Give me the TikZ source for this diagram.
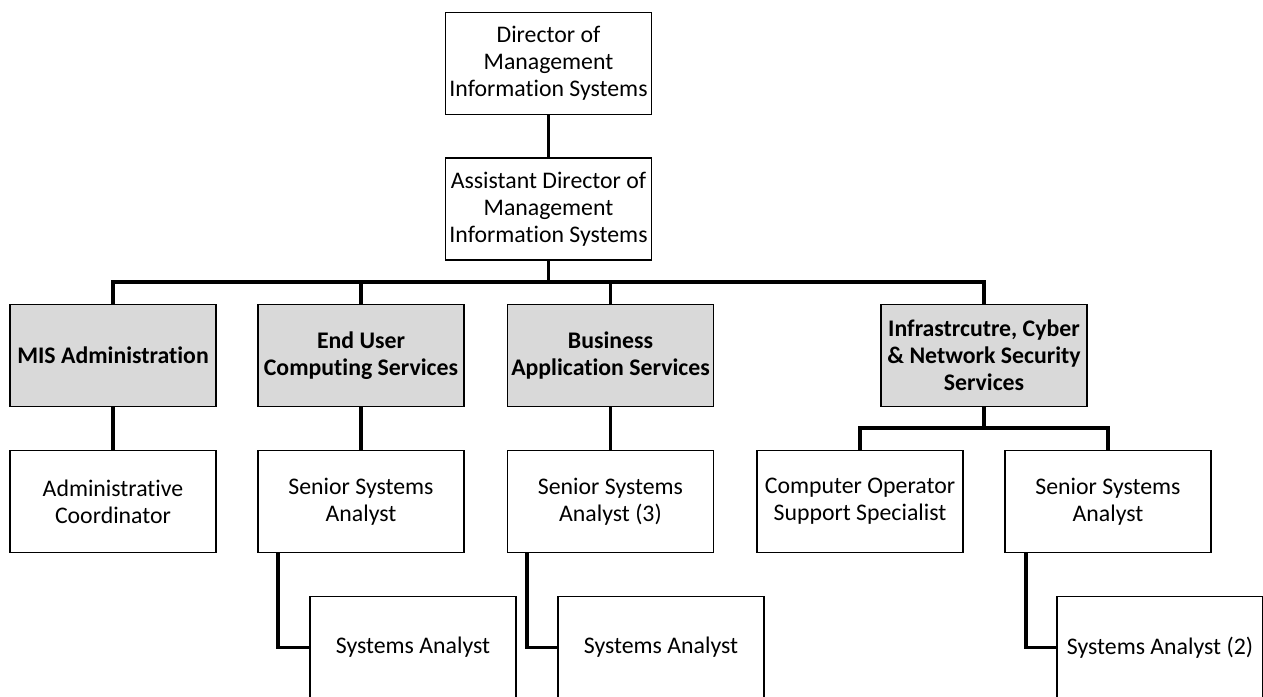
\documentclass[tikz,border=0pt]{standalone}
\usepackage{fontspec}
\setmainfont{Carlito}[Ligatures=NoCommon]
\usetikzlibrary{backgrounds}
\definecolor{unitgray}{HTML}{D9D9D9}
\begin{document}
\begin{tikzpicture}[x=1pt,y=-1pt,
  box/.style={draw=black, line width=1.8pt, fill=white, minimum width=206pt,
    minimum height=102pt, inner sep=0pt, align=center,
    font=\fontsize{23.8}{26.8}\selectfont},
  unit/.style={box, fill=unitgray, font=\fontsize{23.8}{26.8}\selectfont\bfseries},
  link/.style={draw=black, line width=3.8pt}]
\clip (0,0) rectangle (1263,696);

% top of the organisation
\node[box] (dir)  at (548.5,63.5) {Director of\\Management\\Information Systems};
\node[box] (asst) at (548.5,209)  {Assistant Director of\\Management\\Information Systems};

% service units
\node[unit] (mis)   at (113,355.5)   {MIS Administration};
\node[unit] (eu)    at (361,355.5)   {End User\\Computing Services};
\node[unit] (bas)   at (610.5,355.5) {Business\\Application Services};
\node[unit] (infra) at (984,355.5)   {Infrastrcutre, Cyber\\\& Network Security\\Services};

% positions within the units
\node[box] (admin) at (113,501.5)   {Administrative\\Coordinator};
\node[box] (eus)   at (361,501.5)   {Senior Systems\\Analyst};
\node[box] (bss)   at (610.5,501.5) {Senior Systems\\Analyst (3)};
\node[box] (cop)   at (860,501.5)   {Computer Operator\\Support Specialist};
\node[box] (iss)   at (1108,501.5)  {Senior Systems\\Analyst};

\node[box] (sa1) at (413,647.5)  {Systems Analyst};
\node[box] (sa2) at (661,647.5)  {Systems Analyst};
\node[box] (sa3) at (1160,647.5) {Systems Analyst (2)};

\coordinate (bus)  at (548.5,282);
\coordinate (ibus) at (984,428);

\begin{scope}[on background layer]
  \draw[link] (dir.south) -- (asst.north);
  \draw[link] (asst.south) -- (bus);
  \draw[link] (mis.north) |- (bus) -| (infra.north);
  \draw[link] (eu.north) -- (eu.north |- bus);
  \draw[link] (bas.north) -- (bas.north |- bus);

  \draw[link] (mis.south) -- (admin.north);
  \draw[link] (eu.south) -- (eus.north);
  \draw[link] (bas.south) -- (bss.north);
  \draw[link] (infra.south) -- (ibus);
  \draw[link] (cop.north) |- (ibus) -| (iss.north);

  \draw[link] ([xshift=21pt]eus.south west) |- (sa1.west);
  \draw[link] ([xshift=20pt]bss.south west) |- (sa2.west);
  \draw[link] ([xshift=22pt]iss.south west) |- (sa3.west);
\end{scope}
\end{tikzpicture}
\end{document}
